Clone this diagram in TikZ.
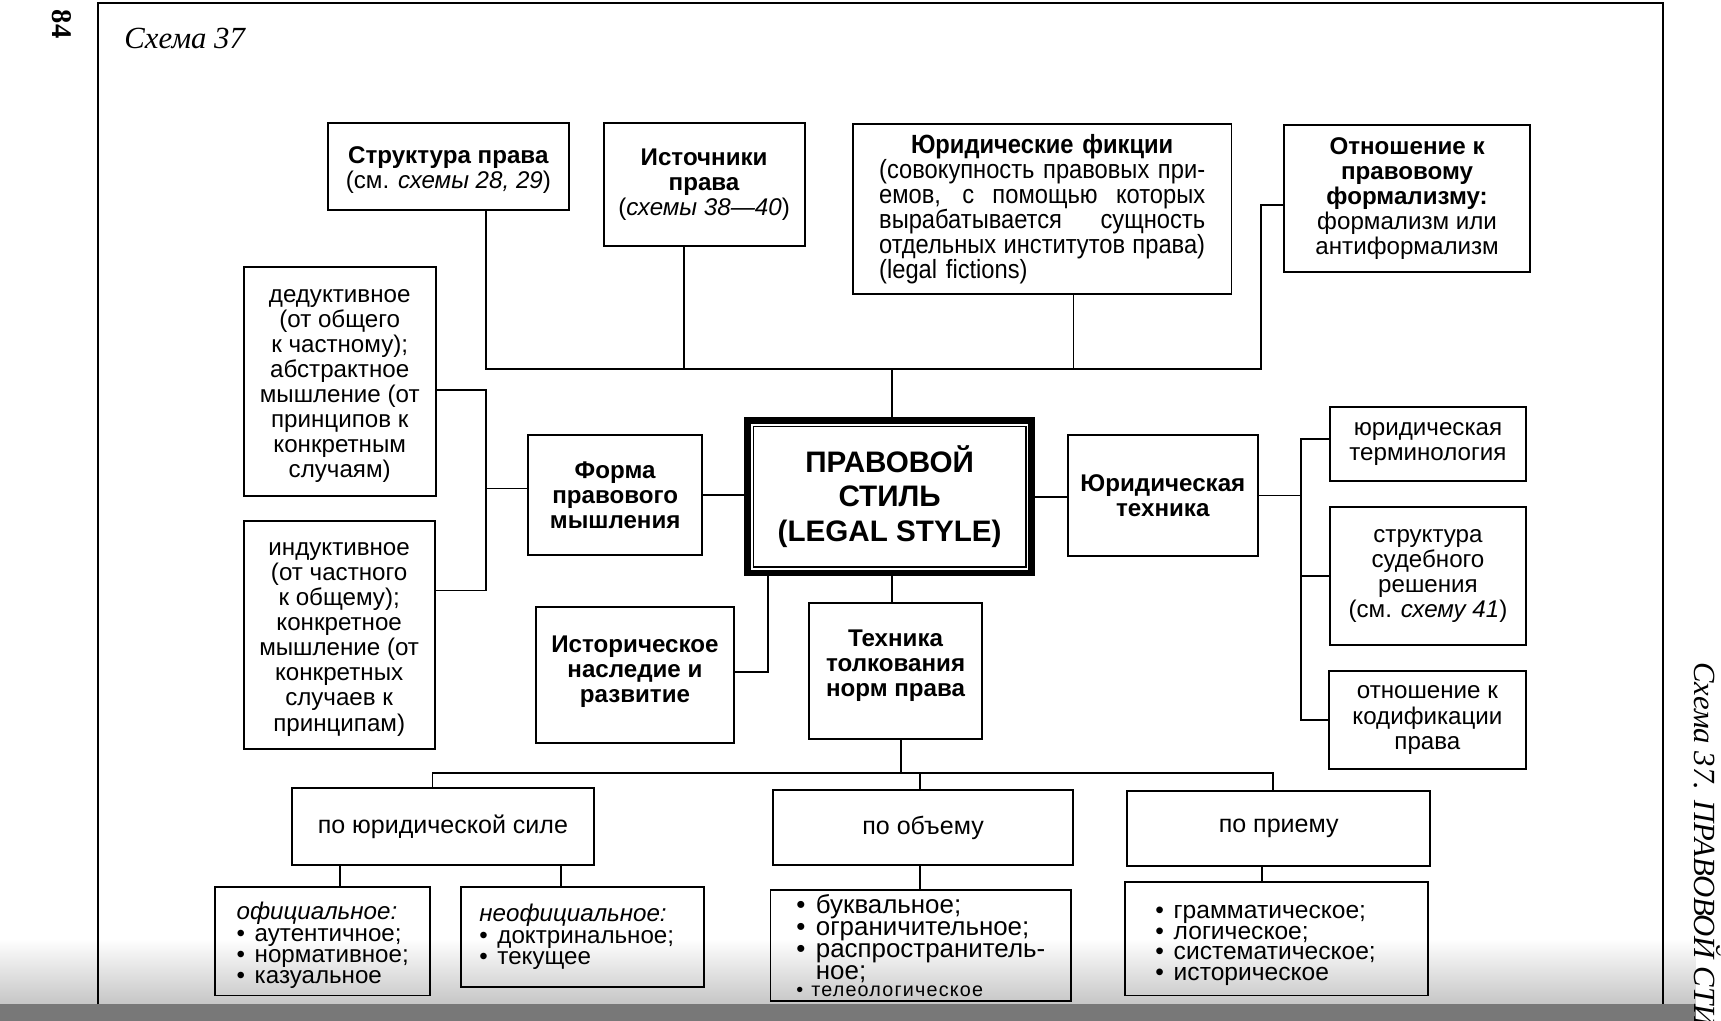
\documentclass[tikz,border=0pt]{standalone}
\usepackage{fontspec}
\setmainfont{Liberation Sans}
\newfontfamily\timesfont{Liberation Serif}
\newfontfamily\narrowfont[FakeStretch=0.9]{Liberation Sans}
\usetikzlibrary{positioning, calc}

\newcommand{\boxfont}{\fontsize{11}{11.4}\selectfont}
\newcommand{\listfont}[2]{\fontsize{#1}{#2}\selectfont\lineskiplimit=-20pt}
\newcommand{\jline}[1]{{\spaceskip=0pt\xspaceskip=0pt\makebox[\linewidth][s]{#1}}}
\newcommand{\itm}{•\hspace{0.4em}}

\begin{document}
\begin{tikzpicture}[
  x=0.5pt, y=-0.5pt,
  font=\boxfont,
  box/.style={draw, line width=0.9pt, align=center, inner sep=0pt},
  wh/.style 2 args={minimum width=#1*0.5pt, minimum height=#2*0.5pt},
  conn/.style={line width=0.8pt},
  page/.style={line width=0.9pt}
]
\clip (0,0) rectangle (1568,930);

% scan shadow at the bottom
\shade[top color=white, bottom color=gray!45] (0,855) rectangle (1545,915);
\fill[black!53] (0,915) rectangle (1545,930);

% page frame and running titles
\draw[page] (89,915) -- (89,3) -- (1515,3) -- (1515,915);
\node[rotate=-90, font=\timesfont\bfseries\fontsize{13}{13}\selectfont] (pagenum) at (56,22) {84};
\node[anchor=base west, inner sep=0pt, font=\timesfont\itshape\fontsize{14}{14}\selectfont] (title) at (113,44) {Схема 37};
\node[rotate=-90, anchor=west, inner sep=0pt, font=\timesfont\itshape\fontsize{14}{14}\selectfont] (header) at (1556,603) {Схема 37. ПРАВОВОЙ СТИЛЬ};

% top row
\node[box, wh={219}{79}] (struct) at (408.5,151.5) {\rule{0pt}{11pt}\textbf{Структура права}\\(см. \textit{схемы 28, 29})};
\node[box, wh={183}{112}] (sources) at (641.5,168) {\textbf{Источники}\\\textbf{права}\\(\textit{схемы 38—40})};
\node[box, wh={345}{155}, text width=148.5pt, align=left, font=\narrowfont\fontsize{12}{11.4}\selectfont] (fictions) at (949.5,190.5) {\makebox[\linewidth]{\textbf{Юридические фикции}}\\
\jline{(совокупность правовых при-}\\
\jline{емов, с помощью которых}\\
\jline{вырабатывается сущность}\\
\jline{отдельных институтов права)}\\
(legal fictions)};
\node[box, wh={224}{134}] (formal) at (1282,181) {\textbf{Отношение к}\\\textbf{правовому}\\\textbf{формализму:}\\формализм или\\антиформализм};

% left column
\node[box, wh={175}{209}] (deduct) at (309.5,347.5) {\rule{0pt}{10pt}дедуктивное\\(от общего\\к частному);\\абстрактное\\мышление (от\\принципов к\\конкретным\\случаям)};
\node[box, wh={174}{207}] (induct) at (309,578.5) {\rule{0pt}{10pt}индуктивное\\(от частного\\к общему);\\конкретное\\мышление (от\\конкретных\\случаев к\\принципам)};
\node[box, wh={159}{110}] (form) at (560.5,451) {\textbf{Форма}\\\textbf{правового}\\\textbf{мышления}};

% centre
\node[box, line width=3pt, wh={259}{139}, font=\bfseries\fontsize{13.5}{15.5}\selectfont] (style) at (810.5,452.5) {ПРАВОВОЙ\\СТИЛЬ\\(LEGAL STYLE)};
\draw[line width=0.8pt] ([shift={(4.25pt,-4.25pt)}]style.north west) rectangle ([shift={(-4.25pt,4.25pt)}]style.south east);

\node[box, wh={181}{124}] (history) at (578.5,615) {\textbf{Историческое}\\\textbf{наследие и}\\\textbf{развитие}\\[-6.5pt]\mbox{}};
\node[box, wh={158}{124}] (interp) at (816,611) {\textbf{Техника}\\\textbf{толкования}\\\textbf{норм права}\\[-5pt]\mbox{}};

% right column
\node[box, wh={173}{111}] (jtech) at (1059.5,451.5) {\textbf{Юридическая}\\\textbf{техника}};
\node[box, wh={178}{67}] (term) at (1301,404.5) {юридическая\\терминология};
\node[box, wh={178}{126}] (court) at (1301,525) {структура\\судебного\\решения\\(см. \textit{схему 41})};
\node[box, wh={179}{90}] (codif) at (1300.5,656) {отношение к\\кодификации\\права};

% kinds of interpretation
\node[box, wh={275}{70}, font=\fontsize{11.4}{12}\selectfont] (force) at (403.5,753) {по юридической силе};
\node[box, wh={274}{68}, font=\fontsize{11.4}{12}\selectfont] (volume) at (841,754) {по объему};
\node[box, wh={276}{68}, font=\fontsize{11.4}{12}\selectfont] (method) at (1165,755) {по приему};
\node[box, wh={196}{99}, align=left, font=\listfont{11}{9.7}] (official) at (294,857.5) {\rule{0pt}{12pt}\textit{официальное:}\\\itm аутентичное;\\\itm нормативное;\\\itm казуальное};
\node[box, wh={221}{91}, align=left, font=\listfont{11}{9.9}] (unofficial) at (530.5,853.5) {\textit{неофициальное:}\\\itm доктринальное;\kern5pt\\\itm текущее};
\node[box, wh={274}{101}, align=left, font=\listfont{11.8}{10}] (vollist) at (839,861.5) {\itm буквальное;\\\itm ограничительное;\\\itm распространитель-\\\phantom{\itm}ное;\\[-2.5pt]{\fontsize{9}{9}\selectfont\addfontfeature{LetterSpace=6}\itm телеологическое}};
\node[box, wh={276}{103}, align=left, font=\listfont{11.2}{9.4}] (methlist) at (1163,855.5) {\rule{0pt}{12pt}\itm грамматическое;\\\itm логическое;\\\itm систематическое;\kern10pt\\\itm историческое};

% connectors, top
\coordinate (topbus) at (813,336);
\draw[conn] ([xshift=17.25pt]struct.south) |- (topbus);
\draw[conn] ([xshift=-9.25pt]sources.south) -- ([xshift=-9.25pt]sources.south |- topbus);
\draw[conn] ([xshift=14.25pt]fictions.south) |- (topbus);
\draw[conn] ([yshift=-3pt]formal.west) -- ++(-10pt,0) |- (topbus);
\draw[conn] (topbus) -- (topbus |- style.north);

% connectors, left
\coordinate (leftbus) at (443,445);
\draw[conn] ([yshift=-3.75pt]deduct.east) -| (leftbus);
\draw[conn] ([yshift=20.25pt]induct.east) -| (leftbus);
\draw[conn] (leftbus) -- (leftbus -| form.west);
\draw[conn] (form.east) -- (form.east -| style.west);
\draw[conn] ([yshift=1.5pt]history.east) -| ([xshift=-55.25pt]style.south);
\draw[conn] (topbus |- style.south) -- (topbus |- interp.north);

% connectors, right
\coordinate (rightbus) at (1185,451.5);
\draw[conn] (style.east) -- (style.east -| jtech.west);
\draw[conn] (jtech.east) -- (rightbus);
\draw[conn] ([yshift=2.25pt]term.west) -| (rightbus |- codif.west) -- (codif.west);
\draw[conn] (court.west) -- (court.west -| rightbus);

% connectors, bottom
\coordinate (lowbus) at (821,704);
\draw[conn] (lowbus |- interp.south) -- (lowbus);
\draw[conn] ([xshift=-4.75pt]force.north) |- (lowbus);
\draw[conn] ([xshift=-2.5pt]method.north) |- (lowbus);
\draw[conn] ([xshift=-1.5pt]volume.north) -- ([xshift=-1.5pt]volume.north |- lowbus);
\draw[conn] ([xshift=-46.75pt]force.south) -- ([xshift=-46.75pt]force.south |- official.north);
\draw[conn] ([xshift=53.75pt]force.south) -- ([xshift=53.75pt]force.south |- unofficial.north);
\draw[conn] ([xshift=-1.5pt]volume.south) -- ([xshift=-1.5pt]volume.south |- vollist.north);
\draw[conn] ([xshift=-7.5pt]method.south) -- ([xshift=-7.5pt]method.south |- methlist.north);

\end{tikzpicture}
\end{document}
